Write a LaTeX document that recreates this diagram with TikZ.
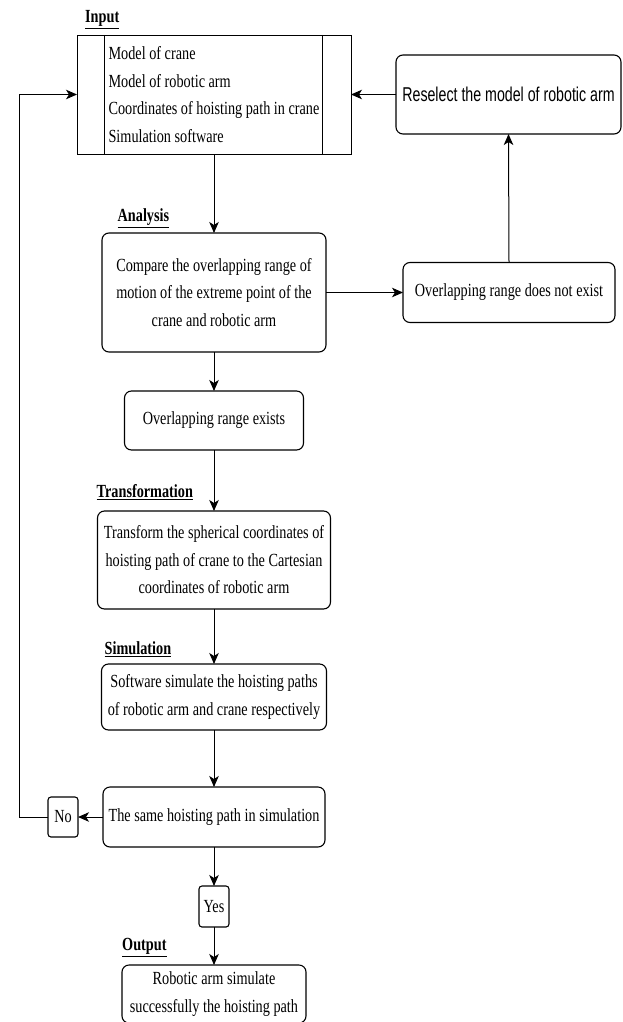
\documentclass[tikz,border=0pt]{standalone}
\usepackage{fontspec}
\setmainfont{Liberation Serif}[FakeStretch=0.77]
\newfontfamily\arialish{Liberation Sans}[FakeStretch=0.71]
\usetikzlibrary{arrows.meta, positioning}
\newcommand\boxfont{\fontsize{18.5}{27.5}\selectfont}
\tikzset{
  stage/.style   = {rectangle, draw, line width=1.1pt, rounded corners=7pt,
                    align=center, inner sep=3pt, outer sep=0pt},
  flow/.style    = {-{Stealth[length=11pt,width=9.5pt,inset=3pt]}, line width=1pt},
  heading/.style = {anchor=south west, inner sep=0pt, font=\boxfont\bfseries}
}

\begin{document}
\begin{tikzpicture}[font=\boxfont]
  \useasboundingbox (0,0) rectangle (622pt,-1022pt);

  % 본 흐름
  \node (input) [stage, sharp corners, line width=0.9pt, minimum width=274pt, minimum height=119pt, align=left] at (214pt,-94.5pt)
    {Model of crane\\Model of robotic arm\\Coordinates of hoisting path in crane\\Simulation software};
  \node (analysis) [stage, below=79pt of input, minimum width=224pt, minimum height=119pt]
    {Compare the overlapping range of\\motion of the extreme point of the\\crane and robotic arm};
  \node (exists) [stage, below=39pt of analysis, minimum width=179pt, minimum height=59pt] {Overlapping range exists};
  \node (transform) [stage, below=61pt of exists, minimum width=233pt, minimum height=98pt]
    {Transform the spherical coordinates of\\hoisting path of crane to the Cartesian\\coordinates of robotic arm};
  \node (simulate) [stage, below=55pt of transform, minimum width=225pt, minimum height=66pt]
    {Software simulate the hoisting paths\\of robotic arm and crane respectively};
  \node (same) [stage, below=57pt of simulate, minimum width=222pt, minimum height=60pt] {The same hoisting path in simulation};
  \node (yes) [stage, rounded corners=3pt, below=39pt of same, minimum width=30pt, minimum height=41pt, inner sep=2pt] {Yes};
  \node (output) [stage, below=38pt of yes, minimum width=184pt, minimum height=58pt]
    {Robotic arm simulate\\successfully the hoisting path};

  % 옆 가지
  \node (noexist) [stage, right=77pt of analysis, minimum width=212pt, minimum height=60pt] {Overlapping range does not exist};
  \node (reselect) [stage, right=45pt of input, minimum width=225pt, minimum height=79pt,
                    font=\arialish\fontsize{20}{24}\selectfont] {Reselect the model of robotic arm};
  \node (no) [stage, rounded corners=3pt, left=25pt of same, minimum width=30pt, minimum height=40pt, inner sep=2pt] {No};

  % 입력 상자 안쪽 세로선
  \draw[line width=0.9pt] ([xshift=27pt]input.north west) -- ([xshift=27pt]input.south west);
  \draw[line width=0.9pt] ([xshift=-29pt]input.north east) -- ([xshift=-29pt]input.south east);

  % 단계 제목
  \node (inputtag)     [heading] at ([xshift=8pt,yshift=6pt]input.north west) {\underline{Input}};
  \node (analysistag)  [heading] at ([xshift=15.5pt,yshift=5pt]analysis.north west) {\underline{Analysis}};
  \node (transformtag) [heading] at ([xshift=-1pt,yshift=11pt]transform.north west) {\underline{Transformation}};
  \node (simulatetag)  [heading] at ([xshift=3pt,yshift=7pt]simulate.north west) {\underline{Simulation}};
  \node (outputtag)    [heading] at ([xshift=0pt,yshift=8pt]output.north west) {\underline{Output}};

  % 화살표
  \draw[flow] (input) -- (analysis);
  \draw[flow] (analysis) -- (exists);
  \draw[flow] (exists) -- (transform);
  \draw[flow] (transform) -- (simulate);
  \draw[flow] (simulate) -- (same);
  \draw[flow] (same) -- (yes);
  \draw[flow] (yes) -- (output);
  \draw[flow] (analysis) -- (noexist);
  \draw[flow] (noexist.north) -- (reselect.south);
  \draw[flow] (reselect) -- (input);
  \draw[flow] (same) -- (no);
  \draw[flow] (no.west) -- ++(-29pt,0) |- (input.west);
\end{tikzpicture}
\end{document}
